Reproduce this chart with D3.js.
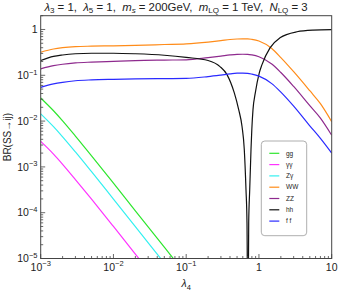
<!DOCTYPE html>
<html><head><meta charset="utf-8">
<script src="https://cdn.jsdelivr.net/npm/d3@7"></script>
<style>body{margin:0;background:#fff} svg{display:block;font-family:"Liberation Sans",Arial,sans-serif}</style>
</head><body><svg id="c" width="340" height="291"></svg>
<script>
// ---- data ----
const lambdaGrid = [0.001,0.0015,0.002,0.003,0.005,0.01,0.02,0.05,0.1,0.2,0.3,0.4,0.5,0.6,0.7,0.8,1,1.5,2,3,5,7,10];
const brWW = [0.319,0.375,0.40,0.422,0.432,0.44,0.451,0.47,0.485,0.53,0.569,0.604,0.62,0.626,0.626,0.61,0.56,0.384,0.244,0.12,0.046,0.024,0.0097];
const brZZ = [0.138,0.162,0.174,0.186,0.194,0.202,0.21,0.215,0.218,0.244,0.263,0.279,0.287,0.288,0.287,0.279,0.254,0.176,0.115,0.057,0.0217,0.0116,0.0049];
const brFF = [0.0546,0.065,0.0703,0.076,0.0794,0.0817,0.0834,0.0847,0.0855,0.0937,0.101,0.107,0.111,0.111,0.110,0.106,0.096,0.0658,0.0429,0.0212,0.0079,0.0042,0.002];

const hhLambda = [0.001,0.0015,0.002,0.003,0.005,0.01,0.02,0.05,0.1,0.2,0.2914,0.3637,0.4584,0.5266,0.5848,0.6287,0.6637,0.685,0.7049,0.723,0.7463,0.7776,0.7976,0.8283,0.8908,1.011,1.101,1.419,1.946,3.334,5.53,10];
const brHH = [0.21,0.258,0.277,0.295,0.303,0.303,0.295,0.274,0.246,0.21,0.155,0.1036,0.0412,0.0178,0.0077,0.0024,0.000315,0.00006,1e-7,0.00006,0.000315,0.0024,0.0065,0.0178,0.0412,0.113,0.171,0.398,0.658,0.891,0.966,0.99];

const lowLambda = [0.001,0.0015,0.002,0.003,0.005,0.01,0.02,0.05,0.1];
const brGG = [0.0319,0.0168,0.0101,0.0047,0.00174,0.00044,0.00011,0.0000177,0.0000044];
const brAA = [0.0036,0.0019,0.00114,0.00053,0.000197,0.00005,0.0000125,0.000002,0.0000005];
const brZA = [0.0144,0.00755,0.00454,0.00212,0.000784,0.000198,0.0000498,0.00000796,0.000002];

const seriesNames = ["gg","γγ","Zγ","WW","ZZ","hh","f f"];
const seriesColors = ["#2ee62e","#ff33ff","#33f0f0","#ff8c1a","#8e2a8e","#111111","#2a2aff"];
const xTickExps = [-3,-2,-1,0,1];
const yTickExps = [-5,-4,-3,-2,-1,0];

// ---- layout ----
const svg = d3.select("#c");
const L = 40.7, R = 331.7, T = 15.7, B = 258.5;
const x = d3.scaleLog().domain([1e-3,10]).range([L,R]);
const y = d3.scaleLog().domain([1e-5,2]).range([B,T]);

svg.append("defs").append("clipPath").attr("id","clip")
  .append("rect").attr("x",L).attr("y",T).attr("width",R-L).attr("height",B-T);

const series = [
  {lam: lowLambda, v: brGG},
  {lam: lowLambda, v: brAA},
  {lam: lowLambda, v: brZA},
  {lam: lambdaGrid, v: brWW},
  {lam: lambdaGrid, v: brZZ},
  {lam: hhLambda, v: brHH},
  {lam: lambdaGrid, v: brFF}
];

const line = d3.line().x(d=>x(d[0])).y(d=>y(d[1])).curve(d3.curveMonotoneX);
const g = svg.append("g").attr("clip-path","url(#clip)");
series.forEach((s,i)=>{
  g.append("path").attr("d", line(s.lam.map((l,j)=>[l,s.v[j]])))
    .attr("fill","none").attr("stroke",seriesColors[i]).attr("stroke-width",1.2);
});

// frame
svg.append("rect").attr("x",L).attr("y",T).attr("width",R-L).attr("height",B-T)
  .attr("fill","none").attr("stroke","#444").attr("stroke-width",1);

// ticks
const isMajor = v => Math.abs(Math.log10(v) - Math.round(Math.log10(v))) < 1e-6;
x.ticks().forEach(v=>{
  const len = isMajor(v) ? 4.5 : 2.5;
  svg.append("line").attr("x1",x(v)).attr("x2",x(v)).attr("y1",B).attr("y2",B-len)
    .attr("stroke","#444").attr("stroke-width",0.8);
});
y.ticks().forEach(v=>{
  if (v > 2) return;
  const len = isMajor(v) ? 4.5 : 2.5;
  svg.append("line").attr("x1",L).attr("x2",L+len).attr("y1",y(v)).attr("y2",y(v))
    .attr("stroke","#444").attr("stroke-width",0.8);
});

function powLabel(t, e){
  if (e === 0) { t.text("1"); return; }
  if (e === 1) { t.text("10"); return; }
  t.append("tspan").text("10");
  t.append("tspan").attr("dy",-4.5).attr("font-size","7.5px").text((e<0?"\u2212":"")+Math.abs(e));
}
xTickExps.forEach(e=>{
  const t = svg.append("text").attr("x",x(Math.pow(10,e))).attr("y",270.5)
    .attr("text-anchor","middle").attr("font-size","10.5px").attr("fill","#222");
  powLabel(t,e);
});
yTickExps.forEach(e=>{
  const t = svg.append("text").attr("x",37.5).attr("y",y(Math.pow(10,e))+3.8)
    .attr("text-anchor","end").attr("font-size","10.5px").attr("fill","#222");
  powLabel(t,e);
});

// axis labels
const xl = svg.append("text").attr("x",(L+R)/2).attr("y",287).attr("text-anchor","middle")
  .attr("font-size","10.5px").attr("fill","#222");
xl.append("tspan").attr("font-style","italic").text("λ");
xl.append("tspan").attr("dy",2.5).attr("font-size","7.5px").text("4");

svg.append("text").attr("transform",`translate(11,${(T+B)/2}) rotate(-90)`)
  .attr("text-anchor","middle").attr("font-size","10px").attr("fill","#222")
  .text("BR(SS→ij)");

// title
const titleParts = [
  ["λ","i"],["3","s"],[" = 1,  ","n"],["λ","i"],["5","s"],[" = 1,  ","n"],
  ["m","i"],["s","si"],[" = 200GeV,  ","n"],["m","i"],["LQ","s"],[" = 1 TeV,  ","n"],
  ["N","i"],["LQ","s"],[" = 3","n"]
];
const tt = svg.append("text").attr("x",176).attr("y",10.8).attr("text-anchor","middle")
  .attr("font-size","11.4px").attr("fill","#222").style("white-space","pre");
let sub = false;
titleParts.forEach(([s,k])=>{
  const sp = tt.append("tspan").text(s);
  const isSub = k==="s" || k==="si";
  if (isSub && !sub) sp.attr("dy",2.5);
  if (!isSub && sub) sp.attr("dy",-2.5);
  if (isSub) sp.attr("font-size","8px");
  if (k==="i" || k==="si") sp.attr("font-style","italic");
  sub = isSub;
});

// legend
const lg = svg.append("g");
lg.append("rect").attr("x",261.3).attr("y",141).attr("width",45.4).attr("height",94.7)
  .attr("rx",3.5).attr("fill","#fff").attr("stroke","#999").attr("stroke-width",0.8);
seriesNames.forEach((n,i)=>{
  const yy = 153.3 + i*11.3;
  lg.append("line").attr("x1",269.3).attr("x2",279.3).attr("y1",yy).attr("y2",yy)
    .attr("stroke",seriesColors[i]).attr("stroke-width",1.2);
  lg.append("text").attr("x",286).attr("y",yy+2.2).attr("font-size","6.5px")
    .attr("fill","#222").style("white-space","pre").text(n);
});
</script></body></html>
